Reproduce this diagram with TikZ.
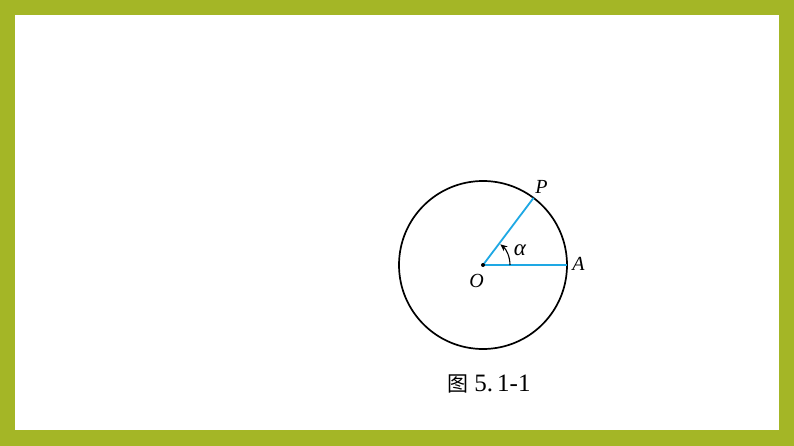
\documentclass[tikz,border=0pt]{standalone}
\usepackage{fontspec}
\newfontfamily\cjk{Noto Sans CJK SC}
\newfontfamily\lserif{Liberation Serif}
\usetikzlibrary{arrows.meta}
\definecolor{olive}{RGB}{164,182,38}
\definecolor{ray}{RGB}{30,168,228}
\tikzset{
  lbl/.style={font=\lserif\itshape\fontsize{20}{22}\selectfont, inner sep=0pt},
  rayline/.style={draw=ray, line width=1.8pt},
}
\begin{document}
\begin{tikzpicture}[x=1pt,y=-1pt]
\useasboundingbox (0,0) rectangle (794,446);
\fill[olive] (0,0) rectangle (794,446);
\fill[white] (15,15) rectangle (779,430);
\coordinate (O) at (483,265);
\draw[line width=1.7pt] (O) circle[radius=84];
\path (O) ++(0:84) coordinate (A);
\path (O) ++(-53:84) coordinate (P);
\draw[rayline] (O) -- (A);
\draw[rayline] (O) -- (P);
\fill (O) circle[radius=2];
\draw[line width=1.1pt, -{Stealth[length=7pt,width=6pt]}] (O) ++(0:27) arc[start angle=0, end angle=-50, radius=27];
\node[lbl] (lP) at (541.5,187) {P};
\node[lbl] (lA) at (578.5,264) {A};
\node[lbl] (lO) at (476.5,281) {O};
\node[lbl, font=\lserif\itshape\fontsize{23}{24}\selectfont] (la) at (520,250) {α};
\node[inner sep=0pt] (cap) at (489,384) {{\cjk\fontsize{21}{24}\selectfont 图}\hspace{6pt}{\lserif\fontsize{25}{28}\selectfont 5.\hspace{4pt}1-1}};
\end{tikzpicture}
\end{document}
